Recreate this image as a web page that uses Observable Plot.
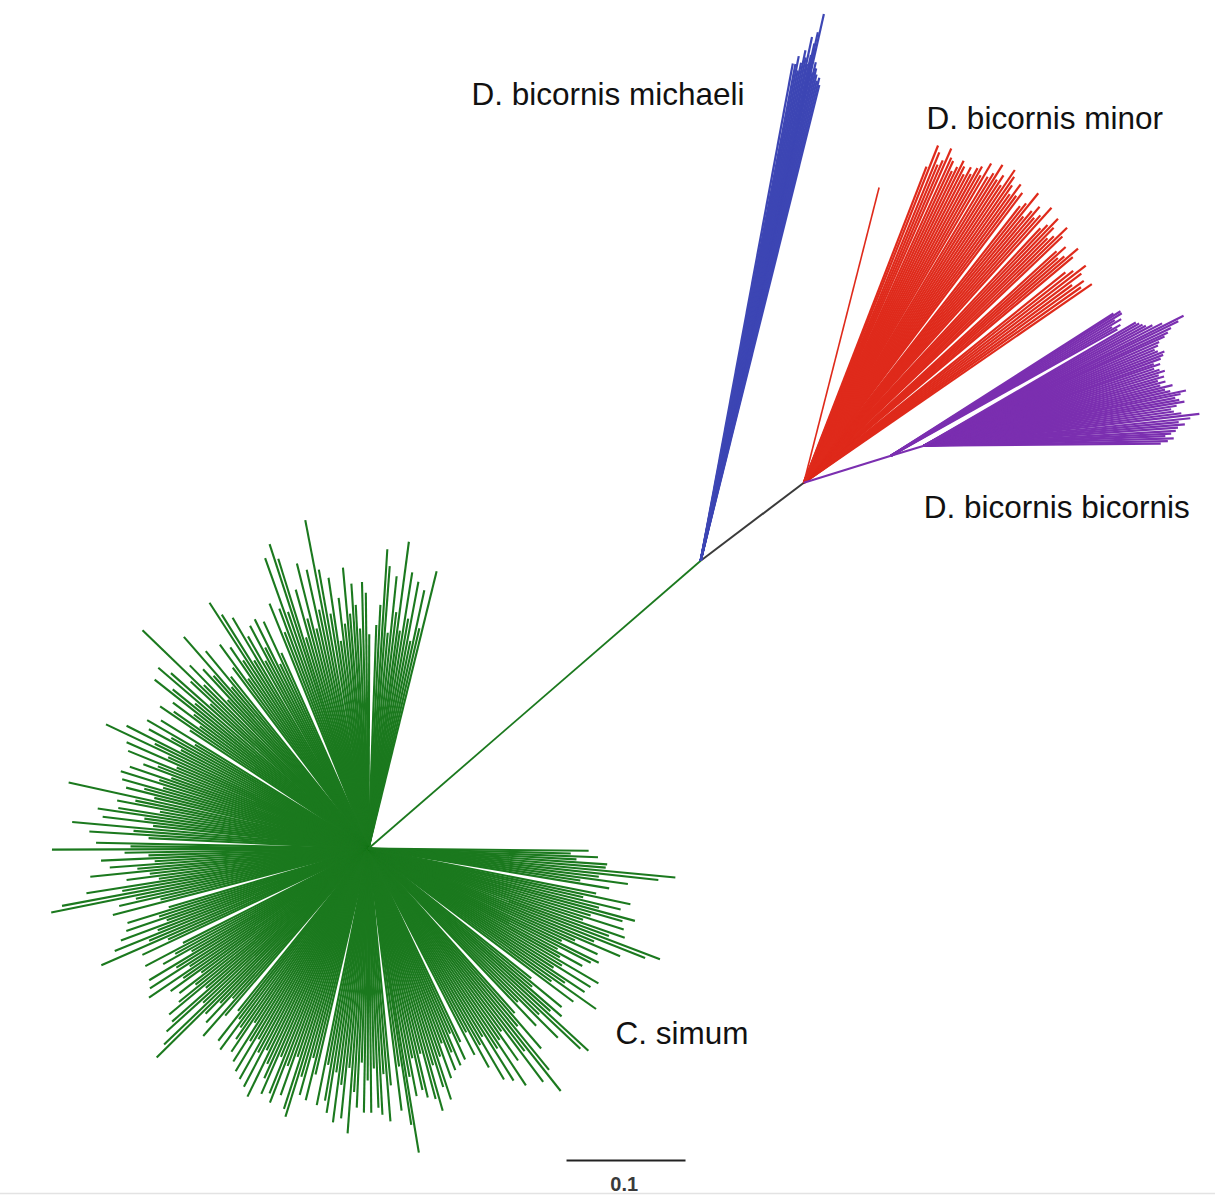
<!DOCTYPE html>
<html>
<head>
<meta charset="utf-8">
<script src="https://cdn.jsdelivr.net/npm/d3@7"></script>
<script src="https://cdn.jsdelivr.net/npm/@observablehq/plot@0.6"></script>
<style>
  html, body { margin: 0; padding: 0; background: #fff; }
  #chart svg { display: block; }
</style>
</head>
<body>
<div id="chart"></div>
<script>
// ---------------- DATA ----------------
// Clade labels
const cladeLabels = ["D. bicornis michaeli", "D. bicornis minor", "D. bicornis bicornis", "C. simum"];

// Internal branches: [angle (deg, counter-clockwise from east), branch length (subst./site)]
const stemSimumToMichaeli = [40.9, 0.3693];
const stemMichaeliToBicornis = [37.1, 0.1087];
const stemBicornisToBB1 = [17.2, 0.0766];
const stemBB1ToBB2 = [16.9, 0.029];
const minorLoneTip = [75.7, 0.256];

// Terminal branches of C. simum from its hub: [angle, length]
const simumTips = [
[76.2,.240],[77,.190],[77.8,.222],[78.6,.178],[79.4,.228],[80.2,.196],[81,.235],[81.8,.185],[82.5,.260],[83.3,.200],[84.1,.230],[84.9,.182],[85.7,.238],[86.4,.252],[87.2,.205],[88,.188],
[89.8,.180],[90.6,.215],[91.4,.224],[92.2,.185],[93,.205],[93.7,.223],[94.5,.198],[95.2,.237],[96,.190],[96.8,.212],[97.6,.176],[98.4,.230],[99.2,.200],
[100.1,.238],[100.9,.281],[101.7,.205],[102.5,.240],[103.3,.190],[104.1,.247],[104.9,.200],[105.7,.226],[106.5,.185],[107.3,.255],[108,.269],[108.8,.210],[109.6,.259],[110.4,.215],[111.2,.195],[112,.222],
[114,.180],[114.8,.210],[115.6,.172],[116.4,.215],[117.2,.190],[118,.212],[118.8,.180],[119.6,.205],[120.5,.225],[121.3,.185],[122.1,.232],[122.9,.246],[123.7,.190],[124.5,.205],[125.3,.175],[126.1,.212],[126.9,.190],
[128.7,.185],[129.5,.215],[130.3,.178],[131.1,.236],[131.9,.195],[132.7,.205],[133.5,.172],[134.3,.215],
[135.2,.195],[136,.264],[136.8,.205],[137.6,.180],[138.4,.222],[139.3,.233],[140.1,.190],[140.9,.212],[141.7,.229],[142.5,.185],[143.3,.205],[144.1,.175],[144.9,.200],[145.7,.212],[146.5,.180],
[148.3,.205],[149.1,.170],[149.9,.215],[150.7,.190],[151.5,.210],[152.3,.178],[153.1,.228],[153.9,.200],[154.7,.244],[155.5,.185],[156.3,.222],[157.1,.175],[157.9,.218],[158.7,.190],[159.5,.202],
[160.3,.176],[161.1,.212],[161.9,.185],[162.7,.218],[163.5,.180],[164.3,.215],[165.1,.195],[165.9,.210],[166.7,.185],[167.6,.258],[168.4,.200],[169.2,.215],[170,.178],[170.8,.213],[171.6,.230],[172.4,.190],[173.2,.225],[174,.182],[174.9,.250],[175.7,.198],[176.5,.235],[177.3,.185],
[178.8,.229],[179.5,.200],[180.2,.266],[181,.205],[181.8,.185],
[182.6,.225],[183.4,.180],[184.2,.218],[185,.195],[185.8,.235],[186.6,.185],[187.4,.205],[188.2,.178],[189,.240],[189.8,.210],[190.6,.262],[191.4,.272],[192.2,.200],[193,.215],[193.8,.180],[194.6,.222],
[196.4,.175],[197.2,.212],[198,.185],[198.8,.215],[199.6,.180],
[200.4,.222],[201.2,.190],[202,.230],[202.8,.200],[203.6,.245],[204.4,.185],[205.2,.210],
[207,.175],[207.8,.212],[208.6,.185],[209.4,.198],[210.2,.172],[211,.215],[211.8,.190],[212.6,.218],[213.4,.180],[214.2,.223],[215,.190],[215.8,.205],[216.6,.175],[217.4,.200],[218.2,.185],[219,.205],[219.8,.218],[220.6,.180],[221.4,.220],[222.2,.229],[223,.190],[223.8,.238],[224.6,.250],[225.4,.195],
[226.2,.180],[227,.200],[227.8,.170],[228.6,.210],[229.4,.185],
[231.2,.175],[232,.205],[232.8,.180],[233.6,.210],[234.4,.185],[235.2,.195],[236,.206],[236.8,.175],[237.6,.212],[238.4,.190],[239.2,.218],[240,.185],[240.8,.222],[241.6,.195],[242.4,.226],[243.2,.190],[244,.232],[244.8,.200],[245.6,.212],
[246.4,.225],[247.2,.190],[248,.222],[248.8,.229],[249.6,.195],[250.4,.220],[251.2,.185],[252,.230],[252.8,.236],[253.6,.200],[254.4,.215],[255.2,.182],[256,.218],[256.8,.195],
[258.6,.220],[259.4,.185],[260.2,.215],[261,.225],[261.8,.190],[262.6,.232],[263.4,.200],[264.2,.228],[265,.185],[265.8,.240],[266.6,.205],[267.4,.218],[268.2,.180],[269,.222],[269.8,.195],
[270.6,.222],[271.4,.185],[272.2,.218],[273,.224],[273.8,.190],[274.6,.230],[275.4,.200],
[277.2,.222],[278,.185],[278.8,.235],[279.4,.259],[280.2,.195],[281,.212],[281.8,.180],[282.6,.208],[283.4,.215],[284.2,.178],[285,.218],[285.8,.229],[286.6,.190],[287.4,.210],[288.2,.222],[289,.185],[289.8,.205],[290.6,.175],[291.4,.200],[292.2,.185],[293,.198],[293.8,.170],[294.6,.195],[295.4,.180],
[297.2,.195],[298,.175],[298.8,.210],[299.6,.190],
[300.4,.225],[301.2,.185],[302,.230],[302.8,.200],[303.6,.239],[304.4,.195],[305.2,.218],[306,.190],[306.8,.245],[307.6,.215],[308.4,.260],[309.2,.240],[310,.195],[310.8,.222],[311.6,.185],
[313.4,.205],[314.2,.180],[315,.225],[315.8,.200],[316.6,.245],[317.4,.251],[318.2,.205],[319,.215],[319.8,.180],[320.6,.210],[321.4,.175],
[323.2,.215],[324,.190],[324.8,.234],[325.6,.200],[326.4,.218],[327.2,.185],[328,.220],[328.8,.190],[329.6,.224],[330.4,.185],[331.2,.205],[332,.180],[332.8,.210],[333.6,.216],[334.4,.180],
[335.2,.212],[336,.190],[336.8,.230],[337.6,.205],[338.4,.250],[339.2,.262],[340,.215],[340.8,.228],[341.6,.190],[342.4,.225],[343.2,.195],[344,.222],[344.8,.232],[345.6,.200],[346.4,.218],[347.2,.185],[348,.225],[348.8,.195],
[350.6,.205],[351.4,.180],[352.2,.220],[353,.195],[353.8,.245],[354.6,.259],[355.4,.200],[356.2,.201],[357,.175],[357.8,.193],[358.6,.170],[359.4,.185]
];

// D. bicornis michaeli tips from its node
const michaeliTips = [
[76.0,.412],[76.2,.418],[76.4,.415],[76.6,.420],[76.8,.425],[77.0,.430],[77.1,.421],[77.3,.471],[77.4,.440],[77.5,.455],[77.6,.445],[77.7,.435],[77.9,.427],[78.0,.450],[78.2,.432],[78.4,.438],[78.6,.427],[78.8,.420],[79.0,.432],[79.2,.425],[79.5,.425]
];

// D. bicornis minor tips from the bicornis node
const minorTips = [
[34.6,.294],[35.2,.285],[35.8,.290],[36.4,.280],[37,.292],[37.6,.299],[38.2,.288],[38.8,.282],
[40,.295],[40.5,.303],[41,.290],[41.5,.285],[42,.296],[42.5,.288],
[43.6,.300],[44.1,.308],[44.6,.295],[45.1,.290],[45.6,.300],[46.1,.308],[46.6,.298],[47.1,.292],
[48,.311],[48.5,.300],[49,.295],[49.5,.305],[50,.298],[50.5,.290],[51,.313],[51.5,.300],[52,.295],
[53,.305],[53.5,.300],[54,.310],[54.5,.298],[55,.305],[55.5,.312],[56,.317],[56.5,.300],[57,.308],[57.5,.302],[58,.315],[58.5,.305],[59,.300],[59.6,.311],[60.1,.298],[60.6,.305],[61.1,.302],[61.6,.295],[62.1,.300],[62.6,.292],[63.1,.298],[63.6,.302],[64.1,.295],[64.6,.290],[65.1,.298],[65.6,.300],[66.2,.307],[66.7,.295],[67.2,.290],[67.7,.300],[68.3,.305],[68.8,.285]
];

// D. bicornis bicornis: upper band from first node, main fan from second node
const bicornisBandTips = [
[29.2,.218],[29.7,.222],[30.2,.215],[30.7,.225],[31.2,.220],[31.7,.228],[32.2,.228],[32.6,.222]
];
const bicornisFanTips = [
[0.5,.199],[1.1,.205],[1.7,.210],[2.3,.203],[2.8,.208],[3.4,.212],[4.1,.214],[4.7,.220],[5.3,.215],[5.9,.225],[6.6,.233],[7.2,.218],[7.8,.212],[8.4,.210],[9,.215],[9.6,.222],[10.2,.218],[10.8,.215],[11.4,.220],[11.9,.225],[12.5,.212],[13.1,.208],[13.7,.215],[14.3,.205],[14.9,.210],[15.5,.204],[16.1,.210],[16.7,.206],[17.3,.212],[17.9,.208],[18.5,.204],[19.1,.210],[19.6,.205],[20.2,.212],[20.8,.215],[21.4,.217],[22,.212],[22.6,.210],[23.2,.214],[23.8,.216],[24.4,.222],[24.9,.226],[25.5,.230],[26.1,.238],[26.6,.244],[27.2,.225],[27.8,.217],[28.4,.212],[29,.210],[29.6,.208],[30.2,.206]
];

// Scale bar
const scaleBarValue = 0.1;
const scaleBarLabel = "0.1";

// ---------------- LAYOUT ----------------
const W = 1215, H = 1197;
const PX_PER_UNIT = 1190;          // 0.1 subst./site = 119 px
const HUB_PX = [368, 848];         // C. simum hub position in the picture
const xDomain = [-HUB_PX[0] / PX_PER_UNIT, (W - HUB_PX[0]) / PX_PER_UNIT];
const yDomain = [(HUB_PX[1] - H) / PX_PER_UNIT, HUB_PX[1] / PX_PER_UNIT];

const colors = {
  simum: "#1b791e",
  michaeli: "#3d46b4",
  minor: "#df2a1b",
  bicornis: "#7b2fb0",
  stem: "#3a3a3a"
};

const rad = Math.PI / 180;
function step(p, [angle, len]) {
  return {x: p.x + len * Math.cos(angle * rad), y: p.y + len * Math.sin(angle * rad)};
}
function seg(p, branch) {
  const q = step(p, branch);
  return {x1: p.x, y1: p.y, x2: q.x, y2: q.y};
}

const hub = {x: 0, y: 0};
const michaeliNode = step(hub, stemSimumToMichaeli);
const bicornisNode = step(michaeliNode, stemMichaeliToBicornis);
const bb1 = step(bicornisNode, stemBicornisToBB1);
const bb2 = step(bb1, stemBB1ToBB2);

const simumSegs = simumTips.map(t => seg(hub, t));
const simumStem = [seg(hub, stemSimumToMichaeli)];
const stemSegs = [seg(michaeliNode, stemMichaeliToBicornis)];
const michaeliSegs = michaeliTips.map(t => seg(michaeliNode, t));
const minorSegs = minorTips.map(t => seg(bicornisNode, t));
const minorLone = [seg(bicornisNode, minorLoneTip)];
const bicornisSegs = [seg(bicornisNode, stemBicornisToBB1), seg(bb1, stemBB1ToBB2)]
  .concat(bicornisBandTips.map(t => seg(bb1, t)))
  .concat(bicornisFanTips.map(t => seg(bb2, t)));

// label anchors (tree units)
const labelAnchors = [
  {x: 0.0865, y: 0.6329},
  {x: 0.4690, y: 0.6133},
  {x: 0.4665, y: 0.2864},
  {x: 0.2076, y: -0.1556}
];
const labels = cladeLabels.map((t, i) => ({text: t, ...labelAnchors[i]}));

const scaleBarStart = {x: 0.1664, y: -0.2622};
const scaleBar = [{x1: scaleBarStart.x, x2: scaleBarStart.x + scaleBarValue, y1: scaleBarStart.y, y2: scaleBarStart.y}];
const scaleText = [{x: scaleBarStart.x + scaleBarValue / 2 - 0.0015, y: -0.2826, text: scaleBarLabel}];
const frameLineY = -0.2899;

const linkOpts = (stroke, w) => ({x1: "x1", y1: "y1", x2: "x2", y2: "y2", stroke, strokeWidth: w});

const chart = Plot.plot({
  width: W,
  height: H,
  margin: 0,
  x: {domain: xDomain, axis: null},
  y: {domain: yDomain, axis: null},
  style: {background: "#fff"},
  marks: [
    Plot.ruleY([frameLineY], {stroke: "#e3e3e3", strokeWidth: 1.5}),
    Plot.link(simumSegs, linkOpts(colors.simum, 2.1)),
    Plot.link(simumStem, linkOpts(colors.simum, 1.8)),
    Plot.link(stemSegs, linkOpts(colors.stem, 2)),
    Plot.link(michaeliSegs, linkOpts(colors.michaeli, 2.2)),
    Plot.link(minorSegs, linkOpts(colors.minor, 2.2)),
    Plot.link(minorLone, linkOpts(colors.minor, 1.6)),
    Plot.link(bicornisSegs, linkOpts(colors.bicornis, 2.2)),
    Plot.text(labels, {x: "x", y: "y", text: "text", textAnchor: "start", fontSize: 31.5,
      fontFamily: "'Liberation Sans', Arial, Helvetica, sans-serif", fill: "#111"}),
    Plot.link(scaleBar, linkOpts("#222", 2)),
    Plot.text(scaleText, {x: "x", y: "y", text: "text", fontSize: 20,
      fontFamily: "'Liberation Sans', Arial, Helvetica, sans-serif", fill: "#3a3a3a", fontWeight: 600})
  ]
});
document.getElementById("chart").appendChild(chart);
</script>
</body>
</html>
